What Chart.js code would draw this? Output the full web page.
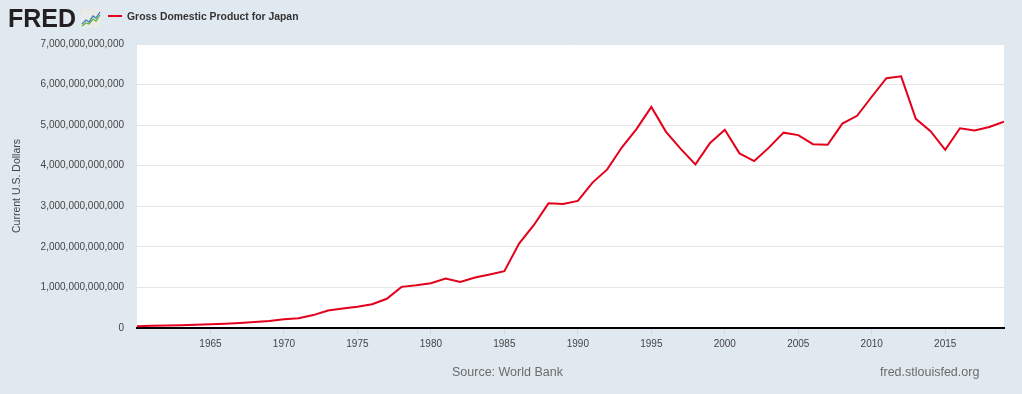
<!DOCTYPE html>
<html>
<head>
<meta charset="utf-8">
<script src="https://cdn.jsdelivr.net/npm/chart.js@4/dist/chart.umd.min.js"></script>
<style>
  body { margin: 0; background: #e1e9f0; font-family: "Liberation Sans", Arial, sans-serif; }
  #wrap { position: relative; width: 1022px; height: 394px; background: #e1e9f0; }
  #grafico { position: absolute; left: 0; top: 0; }
  .logo { position: absolute; left: 8px; top: 4px; font-size: 25px; font-weight: bold; color: #231f20; letter-spacing: 0px; }
  .icone { position: absolute; left: 81px; top: 9px; }
  .legenda { position: absolute; left: 108px; top: 11px; font-size: 10.4px; font-weight: bold; color: #333; }
  .legenda span { display: inline-block; width: 14px; height: 2px; background: #e4001b; vertical-align: middle; margin-right: 5px; position: relative; top: -1px; }
  .fonte { position: absolute; top: 365px; font-size: 12.5px; color: #6b6b6b; }
</style>
</head>
<body>
<div id="wrap">
  <canvas id="grafico" width="1022" height="394"></canvas>
  <div class="logo">FRED</div>
  <svg class="icone" width="20" height="19" viewBox="0 0 20 19">
    <rect x="0" y="0" width="20" height="19" rx="2" fill="#e8ebe7"/>
    <polyline points="1,15 5,11 8,13 12,7 15,9 19,3" fill="none" stroke="#3c7abf" stroke-width="1.3"/>
    <polyline points="1,17 5,14 8,15 12,10 15,12 19,6" fill="none" stroke="#6bae3a" stroke-width="1.3"/>
  </svg>
  <div class="legenda"><span></span>Gross Domestic Product for Japan</div>
  <div class="fonte" style="left:452px">Source: World Bank</div>
  <div class="fonte" style="left:880px">fred.stlouisfed.org</div>
</div>
<script>
const anos = [1960, 1961, 1962, 1963, 1964, 1965, 1966, 1967, 1968, 1969,
  1970, 1971, 1972, 1973, 1974, 1975, 1976, 1977, 1978, 1979,
  1980, 1981, 1982, 1983, 1984, 1985, 1986, 1987, 1988, 1989,
  1990, 1991, 1992, 1993, 1994, 1995, 1996, 1997, 1998, 1999,
  2000, 2001, 2002, 2003, 2004, 2005, 2006, 2007, 2008, 2009,
  2010, 2011, 2012, 2013, 2014, 2015, 2016, 2017, 2018, 2019];

// PIB em bilhões de dólares correntes
const pibBilhoes = [44, 54, 61, 70, 82, 91, 106, 124, 147, 172,
  213, 240, 318, 432, 480, 522, 586, 721, 1014, 1055,
  1105, 1219, 1135, 1243, 1318, 1399, 2079, 2533, 3072, 3055,
  3133, 3584, 3909, 4454, 4907, 5449, 4834, 4415, 4033, 4562,
  4888, 4304, 4115, 4446, 4815, 4755, 4530, 4515, 5038, 5231,
  5700, 6158, 6203, 5156, 4850, 4390, 4923, 4867, 4955, 5083];

const ticksY = [0, 1e12, 2e12, 3e12, 4e12, 5e12, 6e12, 7e12];
const ticksX = [1965, 1970, 1975, 1980, 1985, 1990, 1995, 2000, 2005, 2010, 2015];

const fundoBranco = {
  id: 'fundoBranco',
  beforeDraw(chart) {
    const { ctx, chartArea: a } = chart;
    ctx.save();
    ctx.fillStyle = '#ffffff';
    ctx.fillRect(a.left, a.top, a.right - a.left, a.bottom - a.top);
    ctx.restore();
  }
};

const ctx = document.getElementById('grafico').getContext('2d');
new Chart(ctx, {
  type: 'line',
  data: {
    datasets: [{
      label: 'Gross Domestic Product for Japan',
      data: anos.map((a, i) => ({ x: a, y: pibBilhoes[i] * 1e9 })),
      borderColor: '#e4001b',
      borderWidth: 2,
      pointRadius: 0,
      tension: 0,
      fill: false
    }]
  },
  options: {
    responsive: false,
    animation: false,
    layout: { padding: { left: 0, right: 18, top: 44, bottom: 0 } },
    plugins: { legend: { display: false }, tooltip: { enabled: false } },
    scales: {
      x: {
        type: 'linear',
        min: 1960,
        max: 2019,
        afterBuildTicks: s => { s.ticks = ticksX.map(v => ({ value: v })); },
        afterFit: s => { s.height = 66; },
        grid: { drawOnChartArea: false, drawTicks: true, tickLength: 6, color: '#ccd6eb' },
        border: { color: '#000000', width: 2 },
        ticks: {
          padding: 4,
          color: '#444',
          font: { family: '"Liberation Sans", Arial', size: 10 },
          maxRotation: 0,
          autoSkip: false,
          callback: v => String(v)
        }
      },
      y: {
        min: 0,
        max: 7e12,
        afterBuildTicks: s => { s.ticks = ticksY.map(v => ({ value: v })); },
        afterFit: s => { s.width = 137; },
        grid: { color: '#e6e6e6', drawTicks: false },
        border: { display: false },
        ticks: {
          padding: 13,
          color: '#444',
          font: { family: '"Liberation Sans", Arial', size: 10 },
          callback: v => v.toLocaleString('en-US')
        },
        title: {
          display: true,
          text: 'Current U.S. Dollars',
          color: '#444',
          font: { family: '"Liberation Sans", Arial', size: 10.5 },
          padding: { top: 11, bottom: 0 }
        }
      }
    }
  },
  plugins: [fundoBranco]
});
</script>
</body>
</html>
